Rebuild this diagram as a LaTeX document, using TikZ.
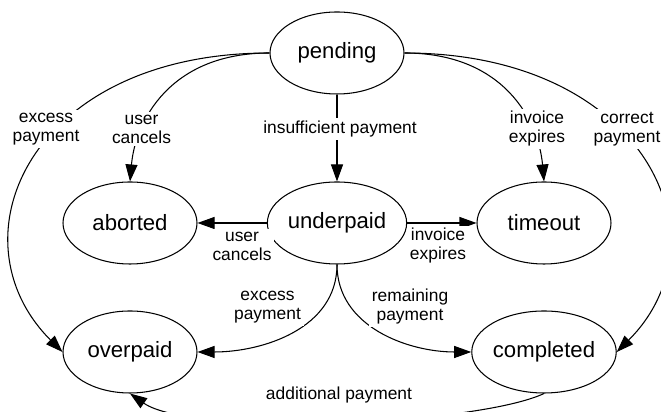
\documentclass[tikz,border=0pt]{standalone}
\usepackage{fontspec}
\setmainfont{Liberation Sans}
\usetikzlibrary{shapes.geometric,arrows.meta}

\begin{document}
\begin{tikzpicture}[
	state/.style={
		ellipse,
		draw,
		line width=0.6pt,
		minimum width=2.68cm,
		minimum height=1.64cm,
		inner sep=0pt,
		font=\fontsize{12.6}{15}\selectfont,
	},
	lbl/.style={
		align=center,
		fill=white,
		inner sep=1.5pt,
		font=\fontsize{9.9}{10.8}\selectfont,
	},
	ArrowT/.style={% transition arrows
		-{Triangle[length=3.4mm,width=2.4mm]},
		line width=0.6pt,
	},
	]
	\useasboundingbox (0,0) rectangle (13.22,8.24);
	% states
	\node[state] (pending) at (6.74,7.18) {pending};
	\node[state] (aborted) at (2.60,3.78) {aborted};
	\node[state] (underpaid) at (6.74,3.78) {underpaid};
	\node[state] (timeout) at (10.88,3.78) {timeout};
	\node[state] (overpaid) at (2.60,1.20) {overpaid};
	\node[state] (completed) at (10.88,1.20) {completed};
	
	% from pending
	\draw[ArrowT] (pending.west) to[out=180,in=135,out distance=4.8cm,in distance=3.2cm] (overpaid.west);
	\draw[ArrowT] (pending.west) to[out=180,in=85,out distance=2cm,in distance=1.2cm] (aborted.north);
	\draw[ArrowT] (pending) -- (underpaid);
	\draw[ArrowT] (pending.east) to[out=0,in=95,out distance=2cm,in distance=1.2cm] (timeout.north);
	\draw[ArrowT] (pending.east) to[out=0,in=45,out distance=4.8cm,in distance=3.2cm] (completed.east);
	
	% from underpaid
	\draw[ArrowT] (underpaid) -- (aborted);
	\draw[ArrowT] (underpaid) -- (timeout);
	\draw[ArrowT] (underpaid.south) to[out=-90,in=0] (overpaid.east);
	\draw[ArrowT] (underpaid.south) to[out=-90,in=180] (completed.west);
	
	% from completed
	\draw[ArrowT] (completed.south) to[out=-155,in=-35,distance=1.5cm] (overpaid.south);
	
	% labels
	\node[lbl] (lExcessTop) at (0.92,5.66) {excess\\payment};
	\node[lbl] (lCancelTop) at (2.83,5.66) {user\\cancels};
	\node[lbl] (lInsuff) at (6.80,5.66) {insufficient payment};
	\node[lbl] (lExpireTop) at (10.74,5.66) {invoice\\expires};
	\node[lbl] (lCorrect) at (12.54,5.66) {correct\\payment};
	\node[lbl] (lCancelMid) at (4.84,3.32) {user\\cancels};
	\node[lbl] (lExpireMid) at (8.76,3.32) {invoice\\expires};
	\node[lbl] (lExcessLow) at (5.35,2.10) {excess\\payment};
	\node[lbl] (lRemain) at (8.20,2.10) {remaining\\payment};
	\node[lbl] (lAdd) at (6.78,0.34) {additional payment};
\end{tikzpicture}
\end{document}
